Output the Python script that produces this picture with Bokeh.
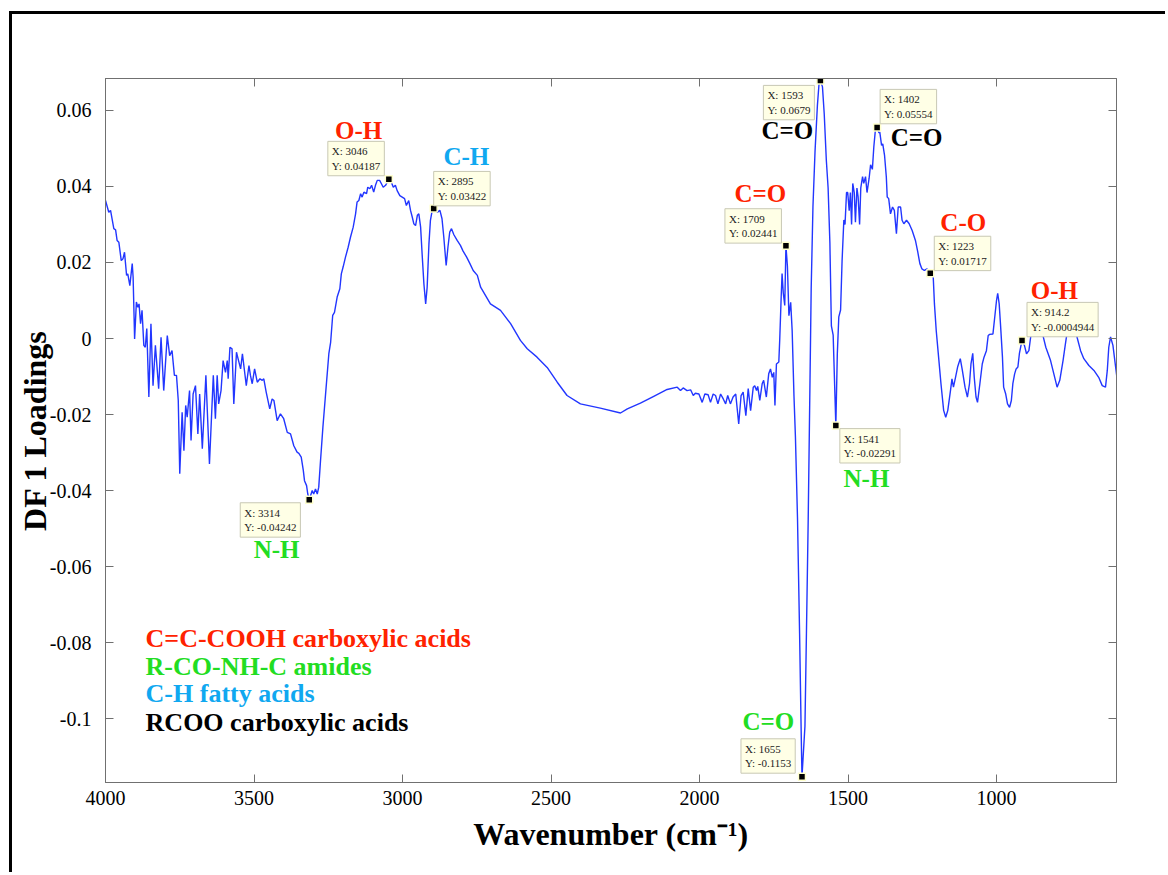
from bokeh.plotting import figure
from bokeh.models import (Range1d, FixedTicker, LinearAxis, CustomJSTickFormatter, Label)
from bokeh.core.properties import value
from bokeh.embed import file_html
from bokeh.resources import INLINE

# ---------------- data ----------------
wavenumber = [
    4000, 3989, 3983, 3972, 3966, 3961, 3955, 3947, 3941, 3936, 3929, 3925, 3918, 3910, 3907,
    3902, 3896, 3891, 3887, 3882, 3877, 3871, 3866, 3861, 3854, 3847, 3840, 3832, 3821, 3813,
    3804, 3792, 3784, 3776, 3768, 3761, 3755, 3750, 3742, 3736, 3730, 3725, 3717, 3712, 3705,
    3697, 3689, 3683, 3674, 3662, 3650, 3637, 3630, 3624, 3619, 3611, 3604, 3596, 3590, 3587,
    3581, 3574, 3568, 3559, 3555, 3545, 3539, 3526, 3517, 3512, 3506, 3498, 3489, 3480, 3472,
    3467, 3459, 3447, 3439, 3433, 3422, 3411, 3400, 3388, 3377, 3366, 3355, 3349, 3341, 3334,
    3330, 3323, 3319, 3314, 3304, 3299, 3293, 3287, 3282, 3276, 3268, 3259, 3248, 3242, 3235,
    3229, 3220, 3211, 3206, 3200, 3192, 3183, 3175, 3166, 3158, 3153, 3147, 3141, 3136, 3130,
    3121, 3117, 3110, 3104, 3097, 3091, 3085, 3077, 3071, 3065, 3057, 3046, 3040, 3031, 3024,
    3018, 3009, 3001, 2993, 2987, 2979, 2973, 2967, 2962, 2956, 2950, 2945, 2939, 2934, 2928,
    2922, 2917, 2911, 2906, 2900, 2895, 2883, 2874, 2867, 2861, 2853, 2847, 2841, 2835, 2827,
    2816, 2805, 2796, 2784, 2773, 2762, 2748, 2737, 2704, 2670, 2636, 2603, 2580, 2547, 2513,
    2479, 2446, 2401, 2334, 2266, 2243, 2199, 2154, 2109, 2075, 2064, 2055, 2042, 2030, 2021,
    2014, 2002, 1991, 1982, 1971, 1963, 1954, 1946, 1938, 1929, 1920, 1912, 1905, 1896, 1887,
    1878, 1868, 1860, 1853, 1844, 1836, 1828, 1819, 1814, 1808, 1804, 1797, 1789, 1784, 1775,
    1767, 1761, 1755, 1750, 1746, 1741, 1733, 1730, 1725, 1722, 1718, 1713, 1709, 1704, 1699,
    1693, 1688, 1682, 1677, 1670, 1663, 1658, 1655, 1645, 1640, 1634, 1629, 1624, 1618, 1611,
    1603, 1597, 1593, 1586, 1580, 1573, 1567, 1561, 1556, 1550, 1541, 1536, 1531, 1525, 1520,
    1514, 1510, 1505, 1501, 1496, 1492, 1488, 1484, 1479, 1475, 1470, 1466, 1461, 1457, 1451,
    1447, 1441, 1436, 1429, 1424, 1418, 1413, 1408, 1402, 1396, 1393, 1387, 1383, 1377, 1371,
    1368, 1363, 1357, 1350, 1344, 1337, 1331, 1323, 1318, 1312, 1303, 1294, 1284, 1273, 1265,
    1258, 1251, 1243, 1234, 1223, 1213, 1209, 1203, 1195, 1187, 1178, 1171, 1164, 1155, 1150,
    1145, 1138, 1131, 1122, 1115, 1106, 1098, 1091, 1086, 1080, 1075, 1069, 1064, 1056, 1048,
    1042, 1034, 1028, 1023, 1012, 1006, 1000, 996, 991, 986, 980, 976, 969, 963, 956,
    950, 945, 939, 934, 928, 923, 914.2, 906, 899, 891, 885, 876, 864, 852, 845,
    834, 818, 807, 796, 787, 776, 768, 763, 752, 740, 729, 717, 706, 689, 672,
    656, 644, 633, 627, 622, 616, 608, 599, 594,
]
loading = [
    0.0363, 0.0332, 0.0337, 0.0289, 0.0286, 0.0258, 0.0253, 0.0205, 0.0210, 0.0227, 0.0166, 0.0170, 0.0139, 0.0197, 0.0161,
    -0.0001, 0.0096, 0.0082, 0.0091, 0.0039, 0.0074, -0.0018, -0.0023, 0.0026, -0.0154, 0.0039, -0.0124, -0.0018, -0.0132, 0.0003,
    -0.0137, 0.0008, -0.0045, -0.0032, -0.0097, -0.0097, -0.0163, -0.0356, -0.0194, -0.0295, -0.0176, -0.0207, -0.0137, -0.0268, -0.0146,
    -0.0124, -0.0251, -0.0146, -0.0290, -0.0097, -0.0330, -0.0097, -0.0211, -0.0097, -0.0172, -0.0137, -0.0058, -0.0089, -0.0058, -0.0106,
    -0.0023, -0.0027, -0.0172, -0.0036, -0.0049, -0.0080, -0.0040, -0.0124, -0.0071, -0.0097, -0.0119, -0.0080, -0.0115, -0.0106, -0.0110,
    -0.0106, -0.0141, -0.0185, -0.0159, -0.0163, -0.0216, -0.0198, -0.0211, -0.0247, -0.0251, -0.0282, -0.0299, -0.0302, -0.0312, -0.0347,
    -0.0374, -0.0387, -0.0409, -0.0424, -0.0400, -0.0409, -0.0396, -0.0409, -0.0391, -0.0321, -0.0233, -0.0146, -0.0040, -0.0010, 0.0061,
    0.0069, 0.0109, 0.0131, 0.0170, 0.0188, 0.0214, 0.0240, 0.0267, 0.0293, 0.0328, 0.0359, 0.0363, 0.0381, 0.0372, 0.0385,
    0.0381, 0.0398, 0.0394, 0.0403, 0.0385, 0.0403, 0.0416, 0.0416, 0.0407, 0.0398, 0.0403, 0.0419, 0.0416, 0.0398, 0.0403,
    0.0389, 0.0376, 0.0372, 0.0368, 0.0350, 0.0363, 0.0337, 0.0319, 0.0302, 0.0297, 0.0324, 0.0328, 0.0293, 0.0223, 0.0144,
    0.0091, 0.0135, 0.0249, 0.0311, 0.0337, 0.0342, 0.0332, 0.0337, 0.0315, 0.0267, 0.0192, 0.0240, 0.0280, 0.0289, 0.0273,
    0.0258, 0.0245, 0.0230, 0.0214, 0.0197, 0.0179, 0.0166, 0.0135, 0.0091, 0.0074, 0.0039, -0.0005, -0.0027, -0.0049, -0.0076,
    -0.0115, -0.0150, -0.0172, -0.0183, -0.0196, -0.0185, -0.0170, -0.0152, -0.0134, -0.0128, -0.0137, -0.0130, -0.0137, -0.0135, -0.0150,
    -0.0144, -0.0146, -0.0168, -0.0146, -0.0148, -0.0168, -0.0146, -0.0150, -0.0172, -0.0146, -0.0159, -0.0172, -0.0150, -0.0172, -0.0154,
    -0.0146, -0.0225, -0.0150, -0.0141, -0.0203, -0.0132, -0.0190, -0.0128, -0.0124, -0.0137, -0.0126, -0.0163, -0.0119, -0.0110, -0.0154,
    -0.0093, -0.0080, -0.0102, -0.0089, -0.0176, -0.0067, -0.0062, -0.0005, 0.0109, 0.0171, 0.0120, 0.0087, 0.0244, 0.0190, 0.0060,
    0.0095, 0.0020, -0.0150, -0.0260, -0.0475, -0.0777, -0.1020, -0.1153, -0.1020, -0.0777, -0.0475, -0.0172, 0.0130, 0.0348, 0.0493,
    0.0614, 0.0676, 0.0679, 0.0662, 0.0590, 0.0469, 0.0396, 0.0251, 0.0033, 0.0009, -0.0229, -0.0040, 0.0057, 0.0075, 0.0203,
    0.0312, 0.0300, 0.0384, 0.0384, 0.0336, 0.0384, 0.0300, 0.0408, 0.0384, 0.0306, 0.0396, 0.0373, 0.0300, 0.0396, 0.0426,
    0.0408, 0.0426, 0.0384, 0.0421, 0.0457, 0.0445, 0.0505, 0.0547, 0.0555, 0.0541, 0.0543, 0.0508, 0.0512, 0.0482, 0.0425,
    0.0372, 0.0368, 0.0328, 0.0346, 0.0337, 0.0276, 0.0346, 0.0346, 0.0311, 0.0302, 0.0311, 0.0302, 0.0284, 0.0258, 0.0227,
    0.0197, 0.0183, 0.0179, 0.0183, 0.0172, 0.0161, 0.0091, 0.0021, -0.0049, -0.0119, -0.0189, -0.0207, -0.0189, -0.0137, -0.0106,
    -0.0128, -0.0102, -0.0075, -0.0053, -0.0084, -0.0128, -0.0154, -0.0119, -0.0067, -0.0039, -0.0102, -0.0154, -0.0168, -0.0119, -0.0067,
    -0.0049, -0.0032, 0.0008, 0.0011, 0.0012, 0.0056, 0.0100, 0.0119, 0.0091, 0.0030, -0.0049, -0.0128, -0.0146, -0.0172, -0.0181,
    -0.0163, -0.0119, -0.0093, -0.0080, -0.0075, -0.0040, -0.0005, -0.0018, -0.0040, -0.0032, 0.0004, 0.0030, 0.0040, 0.0030, 0.0012,
    -0.0023, -0.0058, -0.0093, -0.0128, -0.0110, -0.0058, -0.0014, 0.0012, 0.0030, 0.0025, 0.0004, -0.0032, -0.0053, -0.0071, -0.0084,
    -0.0102, -0.0124, -0.0128, -0.0084, -0.0023, 0.0004, -0.0018, -0.0075, -0.0106,
]

# data tips (marked points)
tip_x = [3314, 3046, 2895, 1709, 1593, 1402, 1223, 914.2, 1541, 1655]
tip_y = [-0.04242, 0.04187, 0.03422, 0.02441, 0.0679, 0.05554, 0.01717, -0.0004944, -0.02291, -0.1153]

# band annotations
band_text = ["O-H", "C-H", "C=O", "C=O", "C=O", "C-O", "O-H", "N-H", "N-H", "C=O"]
band_x = [3148, 2785, 1795, 1704, 1269, 1112, 805, 3424, 1438, 1768]
band_y = [0.0547, 0.0479, 0.0382, 0.0547, 0.0529, 0.0305, 0.0126, -0.0555, -0.0368, -0.1008]

RED, GREEN, BLUE, BLACK = "#ff2200", "#22dd22", "#10a8f0", "#000000"
band_color = [RED, BLUE, RED, BLACK, BLACK, RED, RED, GREEN, GREEN, GREEN]

legend_text = ["C=C-COOH carboxylic acids", "R-CO-NH-C amides", "C-H fatty acids", "RCOO carboxylic acids"]
legend_color = [RED, GREEN, BLUE, BLACK]
legend_x = [3865, 3865, 3865, 3865]
legend_y = [-0.0789, -0.0863, -0.0934, -0.1011]

x_ticks = [4000, 3500, 3000, 2500, 2000, 1500, 1000]
y_ticks = [-0.1, -0.08, -0.06, -0.04, -0.02, 0, 0.02, 0.04, 0.06]

# ---------------- figure ----------------
FONT = "Liberation Serif"
AX = "#707070"

# canvas offset by the black frame (drawn with CSS borders)
p = figure(width=1156, height=861, x_range=Range1d(4000, 596), y_range=Range1d(-0.1168, 0.0684),
           output_backend="svg", toolbar_location=None,
           min_border_left=93, min_border_right=52, min_border_top=64, min_border_bottom=93)
p.styles = {"margin-left": "9px", "margin-top": "11px",
            "border-left": "3px solid black", "border-top": "3px solid black"}
p.grid.visible = False
p.outline_line_color = AX
p.background_fill_color = "white"
p.border_fill_color = "white"

def style_axis(ax, labels=True):
    ax.major_tick_in = 8
    ax.major_tick_out = 0
    ax.minor_tick_line_color = None
    ax.axis_line_color = AX
    ax.major_tick_line_color = AX
    ax.major_label_text_font = FONT
    if labels:
        ax.major_label_text_color = "black"
        ax.major_label_text_font_size = "20px"
    else:
        ax.major_label_text_color = None
        ax.major_label_text_font_size = "0px"
        ax.major_label_standoff = 0

p.xaxis.ticker = FixedTicker(ticks=x_ticks)
p.yaxis.ticker = FixedTicker(ticks=y_ticks)
p.yaxis.formatter = CustomJSTickFormatter(code="return String(Math.round(tick*100)/100);")
style_axis(p.xaxis[0])
style_axis(p.yaxis[0])
p.xaxis.major_label_standoff = 8
p.yaxis.major_label_standoff = 14

p.xaxis.axis_label = "Wavenumber (cm\u207b\u00b9)"
p.yaxis.axis_label = "DF 1 Loadings"
for ax in (p.xaxis[0], p.yaxis[0]):
    ax.axis_label_text_font = FONT
    ax.axis_label_text_font_size = "32px"
    ax.axis_label_text_font_style = "bold"
    ax.axis_label_text_color = "black"
p.xaxis.axis_label_standoff = 8
p.yaxis.axis_label_standoff = -6

top_ax = LinearAxis(ticker=FixedTicker(ticks=x_ticks))
right_ax = LinearAxis(ticker=FixedTicker(ticks=y_ticks))
style_axis(top_ax, labels=False)
style_axis(right_ax, labels=False)
p.add_layout(top_ax, "above")
p.add_layout(right_ax, "right")

# spectrum
p.line(wavenumber, loading, line_color="#2236ff", line_width=1.4)

# data tips (box corner offsets from the marked point, in px)
tip_dx = [-69, -61, 0, -61, -57, 3, 4, 5, 4, -61]
tip_dy = [-3, 38, 37, 37, -5, 38, 37, 38, -3, 38]
for x, y, dx, dy in zip(tip_x, tip_y, tip_dx, tip_dy):
    p.add_layout(Label(x=x, y=y, x_offset=dx, y_offset=dy,
                       text=f"X: {x:.4g}\nY: {y:.4g}",
                       text_font=FONT, text_font_size="11px", text_color="#222222",
                       text_align="left", text_baseline="top", text_line_height=1.2,
                       background_fill_color="#ffffe6", border_line_color="#c8c8b4",
                       padding=4))
p.scatter(tip_x, tip_y, marker="square", size=7, fill_color="black",
          line_color="#ffffcc", line_width=1.5)

# band labels
p.text(x=band_x, y=band_y, text=band_text, text_color=band_color,
       text_font=value(FONT), text_font_size="25px", text_font_style="bold",
       text_align="center", text_baseline="middle")

# legend-like text block
p.text(x=legend_x, y=legend_y, text=legend_text, text_color=legend_color,
       text_font=value(FONT), text_font_size="26px", text_font_style="bold",
       text_align="left", text_baseline="middle")

open("out.html", "w").write(file_html(p, INLINE, "DF 1 Loadings"))
